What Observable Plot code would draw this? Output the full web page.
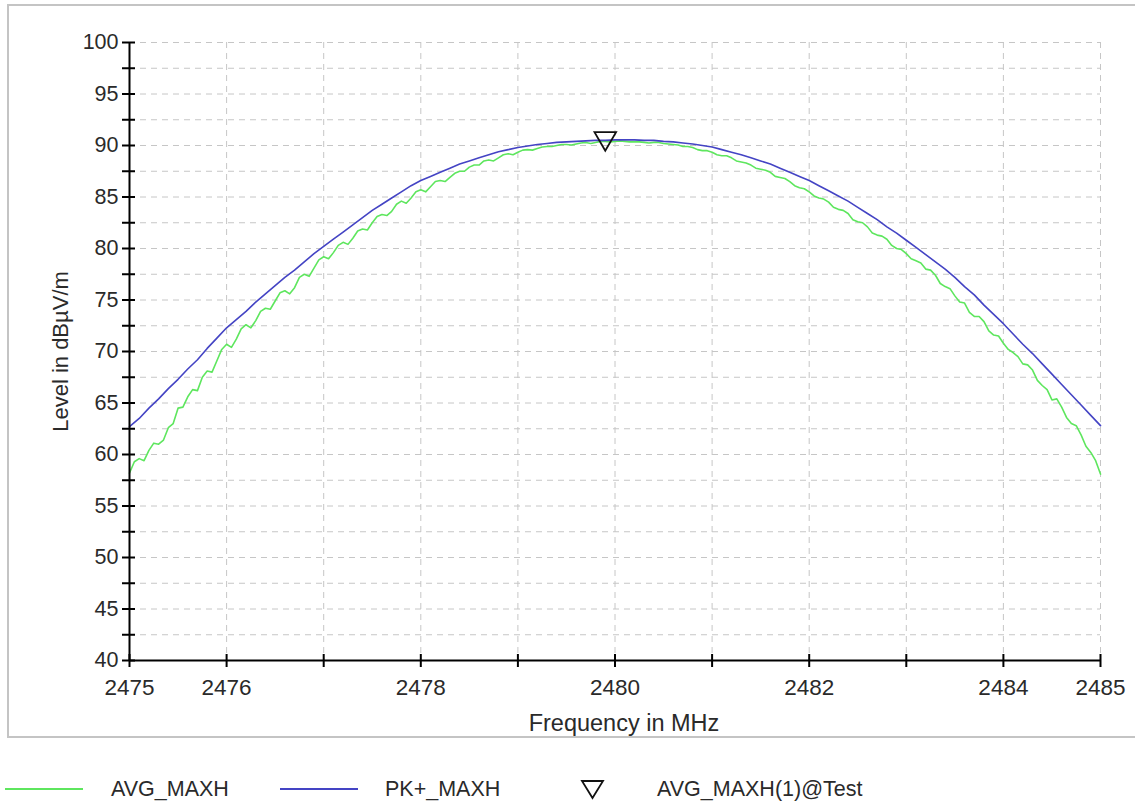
<!DOCTYPE html>
<html>
<head>
<meta charset="utf-8">
<script src="https://cdn.jsdelivr.net/npm/d3@7"></script>
<script src="https://cdn.jsdelivr.net/npm/@observablehq/plot@0.6"></script>
<style>
  html, body { margin: 0; padding: 0; background: #fff; }
  body { width: 1135px; height: 805px; position: relative; overflow: hidden; font-family: "Liberation Sans", Arial, sans-serif; color: #2a2a2a; }
  #frame { position: absolute; left: 7px; top: 4px; width: 1140px; height: 734px; border: 2px solid #c4c4c4; box-sizing: border-box; }
  #chart { position: absolute; left: 0; top: 0; }
  .leg { position: absolute; top: 776px; font-size: 21.5px; line-height: 26px; white-space: nowrap; }
  .sw { position: absolute; top: 788px; height: 2px; }
</style>
</head>
<body>
<div id="frame"></div>
<div id="chart"></div>
<div class="sw" style="left:5px;width:78px;background:#5ee65e"></div>
<div class="leg" style="left:111px">AVG_MAXH</div>
<div class="sw" style="left:280px;width:78px;background:#4444c4"></div>
<div class="leg" style="left:385px">PK+_MAXH</div>
<svg style="position:absolute;left:580px;top:779px" width="26" height="22"><polygon points="2,2 23,2 12.5,19" fill="none" stroke="#111" stroke-width="1.8"/></svg>
<div class="leg" style="left:657px">AVG_MAXH(1)@Test</div>
<script>
// Frequency samples (MHz): PK+ trace at 0.1 MHz spacing, AVG trace at 0.05 MHz spacing
const freqPk = d3.range(101).map(i => 2475 + i / 10);
const freqAvg = d3.range(201).map(i => 2475 + i / 20);

// PK+_MAXH level (dBµV/m)
const pkMaxh = [
  62.7, 63.5, 64.5, 65.4, 66.4, 67.3, 68.3, 69.2, 70.3, 71.3,
  72.3, 73.1, 73.9, 74.8, 75.6, 76.4, 77.2, 77.9, 78.7, 79.5,
  80.2, 80.9, 81.6, 82.3, 83.0, 83.7, 84.3, 84.9, 85.5, 86.1,
  86.6, 87.0, 87.4, 87.8, 88.2, 88.5, 88.8, 89.1, 89.4, 89.6,
  89.8, 89.95, 90.1, 90.2, 90.3, 90.35, 90.4, 90.45, 90.5, 90.5,
  90.55, 90.55, 90.55, 90.5, 90.5, 90.4, 90.35, 90.25, 90.15, 90.0,
  89.85, 89.6, 89.35, 89.1, 88.8, 88.5, 88.2, 87.8, 87.4, 87.0,
  86.6, 86.1, 85.6, 85.1, 84.6, 84.0, 83.4, 82.8, 82.1, 81.5,
  80.8, 80.1, 79.4, 78.7, 78.0, 77.2, 76.3, 75.5, 74.5, 73.6,
  72.7, 71.7, 70.7, 69.8, 68.8, 67.8, 66.8, 65.8, 64.8, 63.8,
  62.8
];

// AVG_MAXH level (dBµV/m)
const avgMaxh = [
  58.2, 59.3, 59.6, 59.4, 60.4, 61.1, 61.0, 61.4, 62.6, 63.0,
  64.5, 64.6, 65.6, 66.3, 66.2, 67.5, 68.1, 68.0, 69.1, 70.2,
  70.7, 70.4, 71.2, 72.2, 72.6, 72.3, 73.0, 73.9, 74.2, 74.1,
  74.9, 75.7, 75.9, 75.6, 76.2, 77.2, 77.5, 77.3, 78.1, 78.9,
  79.2, 79.0, 79.6, 80.3, 80.6, 80.4, 81.0, 81.7, 81.9, 81.8,
  82.5, 83.1, 83.3, 83.2, 83.6, 84.3, 84.6, 84.4, 84.9, 85.5,
  85.7, 85.5, 86.0, 86.5, 86.6, 86.5, 86.9, 87.3, 87.5, 87.5,
  87.9, 88.1, 88.1, 88.5, 88.6, 88.5, 88.8, 89.1, 89.2, 89.1,
  89.35, 89.55, 89.6, 89.55, 89.7, 89.85, 89.9, 89.9, 90.0, 90.1,
  90.1, 90.05, 90.15, 90.25, 90.3, 90.2, 90.3, 90.4, 90.4, 90.35,
  90.4, 90.45, 90.4, 90.35, 90.35, 90.35, 90.3, 90.25, 90.3, 90.3,
  90.2, 90.15, 90.1, 90.05, 89.9, 89.9, 89.8, 89.6, 89.5, 89.5,
  89.35, 89.1, 89.0, 89.0, 88.8, 88.5, 88.4, 88.3, 88.1, 87.8,
  87.7, 87.6, 87.4, 87.0, 86.9, 86.8, 86.5, 86.1, 85.9, 85.8,
  85.5, 85.1, 84.9, 84.8, 84.5, 84.0, 83.8, 83.7, 83.4, 82.8,
  82.6, 82.5, 82.1, 81.5, 81.3, 81.2, 80.9, 80.3, 80.0, 79.9,
  79.5, 79.0, 78.8, 78.6, 78.0, 77.9, 77.4, 76.6, 76.3, 76.1,
  75.4, 74.8, 74.7, 73.8, 73.4, 73.4, 72.9, 72.0, 71.6, 71.5,
  70.8, 70.2, 69.9, 69.5, 68.8, 68.7, 68.2, 67.2, 66.7, 66.3,
  65.3, 65.4, 64.6, 63.6, 63.0, 62.8, 61.9, 60.8, 60.2, 59.4,
  58.1
];

// Marker AVG_MAXH(1)
const markerFreq = [2479.9];
const markerLevel = [90.4];

// Ticks
const xTickValues = [2475, 2476, 2477, 2478, 2479, 2480, 2481, 2482, 2483, 2484, 2485];
const xTickLabels = [2475, 2476, 2478, 2480, 2482, 2484, 2485];
const yTickValues = [40, 42.5, 45, 47.5, 50, 52.5, 55, 57.5, 60, 62.5, 65, 67.5, 70, 72.5, 75, 77.5, 80, 82.5, 85, 87.5, 90, 92.5, 95, 97.5, 100];
const yTickLabels = [40, 45, 50, 55, 60, 65, 70, 75, 80, 85, 90, 95, 100];

const green = "#5ee65e";
const blue = "#4444c4";
const gridColor = "#c6c6c6";

const pkRows = freqPk.map((f, i) => ({f, v: pkMaxh[i]}));
const avgRows = freqAvg.map((f, i) => ({f, v: avgMaxh[i]}));
const marker = markerFreq.map((f, i) => ({f, v: markerLevel[i]}));

const chart = Plot.plot({
  width: 1135,
  height: 740,
  marginLeft: 129,
  marginRight: 35,
  marginTop: 42,
  marginBottom: 80,
  style: {fontFamily: "Liberation Sans, Arial, sans-serif", fontSize: "22px", color: "#2a2a2a", background: "transparent"},
  x: {domain: [2475, 2485], label: null},
  y: {domain: [40, 100], label: null},
  marks: [
    Plot.ruleY(yTickValues.filter(d => d > 40), {y: d => d, stroke: gridColor, strokeDasharray: "6,5", strokeWidth: 1}),
    Plot.ruleX(xTickValues.filter(d => d > 2475), {x: d => d, stroke: gridColor, strokeDasharray: "6,5", strokeWidth: 1}),
    Plot.line(avgRows, {x: "f", y: "v", stroke: green, strokeWidth: 1.6}),
    Plot.line(pkRows, {x: "f", y: "v", stroke: blue, strokeWidth: 1.6}),
    Plot.ruleX([2475], {stroke: "#000", strokeWidth: 2}),
    Plot.ruleY([40], {stroke: "#000", strokeWidth: 2}),
    Plot.ruleY(yTickValues, {y: d => d, x1: 2475, x2: 2475, insetLeft: -7, insetRight: -6, stroke: "#000", strokeWidth: 2}),
    Plot.ruleX(xTickValues, {x: d => d, y1: 40, y2: 40, insetTop: -6, insetBottom: -7, stroke: "#000", strokeWidth: 2}),
    Plot.dot(marker, {x: "f", y: "v", symbol: "triangle", rotate: 180, r: 8, dy: -3, stroke: "#111", fill: "none", strokeWidth: 1.8}),
    Plot.axisY({ticks: yTickLabels, tickSize: 0, tickPadding: 11, tickFormat: d => String(d), fontSize: 21.5}),
    Plot.axisX({ticks: xTickLabels, tickSize: 0, tickPadding: 19, tickFormat: d => String(d), fontSize: 22.5}),
    Plot.text(["Frequency in MHz"], {frameAnchor: "bottom", text: d => d, textAnchor: "middle", dy: 70, dx: 9, fontSize: 23.5, fill: "#2a2a2a"}),
    Plot.text(["Level in dBµV/m"], {frameAnchor: "left", text: d => d, textAnchor: "middle", rotate: -90, dx: -69, fontSize: 22, fill: "#2a2a2a"})
  ]
});
document.getElementById("chart").appendChild(chart);
</script>
</body>
</html>
